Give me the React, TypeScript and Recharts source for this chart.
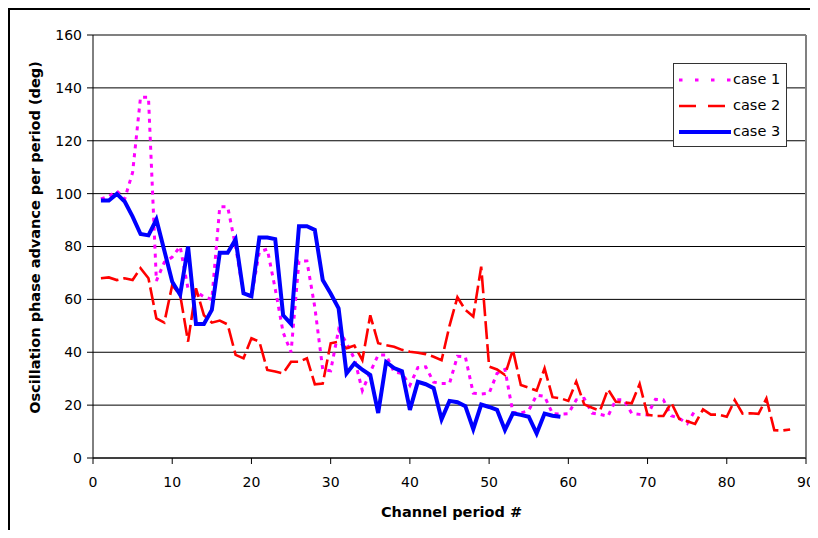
import { LineChart, Line, XAxis, YAxis, CartesianGrid, ReferenceLine, Legend } from 'recharts';

// values, channel period 1, 2, 3 ...
const CASE_1 = [
  98, 99, 101, 98, 108, 136.5, 136.5, 67, 74, 76,
  80, 64, 63, 61, 60, 95, 95, 80, 62, 61,
  78, 79, 64, 47.5, 40, 74.5, 74.5, 57, 33.5, 33,
  48.5, 43.5, 37.5, 25.5, 32.5, 39, 39, 32.5, 32, 27.5,
  34.2, 34.5, 28.7, 28.2, 28.2, 38.5, 38.3, 24.5, 24.2, 24.5,
  32, 33.5, 17.2, 17, 18, 23.8, 23.3, 16.8, 16.6, 16.8,
  22, 22.5, 17, 16.5, 15.8, 22, 22, 16.9, 16.5, 16.3,
  22.2, 22, 16, 15, 13, 18,
];

const CASE_2 = [
  68, 68.3, 67.3, 68, 67.3, 71.8, 68, 52.8, 51.2, 65.4,
  61.7, 44, 64.2, 54, 51.2, 52, 50.5, 39, 37.7, 45.3,
  44, 33.3, 32.7, 32, 36.4, 36.4, 37.7, 27.9, 28.2, 43.4,
  44, 41.5, 42.5, 37, 54, 43.4, 42.7, 42.1, 40.9, 40.2,
  39.8, 39.3, 38.3, 37, 50, 60.8, 56, 53.5, 72.4, 34.6,
  33.5, 31.4, 40.9, 27.6, 26.6, 25.5, 33.9, 23, 22.6, 21.6,
  28.9, 20.3, 19, 17.9, 26, 21.3, 21, 20.7, 28, 16.3,
  15.9, 15.9, 20.9, 14.8, 13.9, 12.9, 18.4, 16.4, 16.4, 15.6,
  21.9, 16.8, 16.9, 16.7, 22.5, 10.5, 10.4, 10.8,
];

const CASE_3 = [
  97.4, 97.4, 99.9, 97, 91.3, 84.7, 84.2, 90.2, 78.5, 66.7,
  61.7, 80, 50.7, 50.7, 56, 77.6, 77.6, 82.7, 62.3, 61.2,
  83.4, 83.4, 82.8, 54, 50.7, 87.7, 87.7, 86.3, 67.3, 62.2,
  56.6, 32, 35.8, 33.4, 31.4, 17, 36.3, 34, 32.8, 18.2,
  28.8, 27.9, 26.4, 14.6, 21.6, 21.1, 19.6, 10.9, 20.2, 19.3,
  18.2, 10.6, 16.9, 16.3, 15.6, 9.3, 16.8, 16, 15.6,
];

const X_TICKS = [0, 10, 20, 30, 40, 50, 60, 70, 80, 90];
const Y_TICKS = [0, 20, 40, 60, 80, 100, 120, 140, 160];

const FONT = '"DejaVu Sans", sans-serif';

const SERIES = [
  { key: 'case1', name: 'case 1', color: '#FF00FF', width: 3, dash: '4 5' },
  { key: 'case2', name: 'case 2', color: '#FF0000', width: 2.6, dash: '18 5' },
  { key: 'case3', name: 'case 3', color: '#0000FF', width: 4, dash: undefined },
];

const chartData = CASE_2.map((v, i) => ({
  period: i + 1,
  case1: CASE_1[i],
  case2: v,
  case3: CASE_3[i],
}));

function YTitle({ viewBox }: any) {
  const x = viewBox.x + 25;
  const y = viewBox.y + viewBox.height / 2 - 9;
  return (
    <text
      x={x}
      y={y}
      transform={`rotate(-90 ${x} ${y})`}
      textAnchor="middle"
      dominantBaseline="central"
      fontFamily={FONT}
      fontWeight="bold"
      fontSize={14.5}
      fill="#000"
    >
      Oscillation phase advance per period (deg)
    </text>
  );
}

function XTitle({ viewBox }: any) {
  return (
    <text
      x={viewBox.x + viewBox.width / 2 + 2}
      y={viewBox.y + 59}
      textAnchor="middle"
      fontFamily={FONT}
      fontWeight="bold"
      fontSize={14.5}
      fill="#000"
    >
      Channel period #
    </text>
  );
}

function LegendBox() {
  return (
    <div
      style={{
        position: 'relative',
        width: 114,
        height: 84,
        boxSizing: 'border-box',
        border: '1px solid #333',
        background: '#fff',
        fontFamily: FONT,
        fontSize: 14.5,
        color: '#000',
      }}
    >
      {SERIES.map((s, i) => (
        <div key={s.key}>
          <svg
            width={54}
            height={8}
            style={{ position: 'absolute', left: 4, top: 12 + i * 26 }}
          >
            <line
              x1={1}
              y1={4}
              x2={53}
              y2={4}
              stroke={s.color}
              strokeWidth={s.width}
              strokeDasharray={s.key === 'case1' ? '3.5 12.5' : s.key === 'case2' ? '17 12' : undefined}
            />
          </svg>
          <span
            style={{
              position: 'absolute',
              left: 59,
              top: 6 + i * 26,
              lineHeight: '18px',
              whiteSpace: 'nowrap',
            }}
          >
            {s.name}
          </span>
        </div>
      ))}
    </div>
  );
}

export default function App() {
  return (
    <div
      style={{
        width: 808,
        height: 528,
        borderLeft: '2px solid #000',
        borderTop: '2px solid #000',
        marginBottom: -8,
        background: '#fff',
      }}
    >
      <LineChart
        width={808}
        height={528}
        data={chartData}
        margin={{ top: 25, right: 12, bottom: 0, left: 0 }}
      >
        <CartesianGrid vertical={false} stroke="#000" />
        <XAxis
          dataKey="period"
          type="number"
          domain={[0, 90]}
          ticks={X_TICKS}
          height={80}
          tickSize={6}
          tickMargin={13}
          tick={{ fill: '#000', fontSize: 14, fontFamily: FONT }}
          axisLine={{ stroke: '#000' }}
          tickLine={{ stroke: '#000' }}
          label={<XTitle />}
        />
        <YAxis
          type="number"
          domain={[0, 160]}
          ticks={Y_TICKS}
          width={83}
          tickSize={6}
          tickMargin={5}
          tick={{ fill: '#000', fontSize: 14, fontFamily: FONT }}
          axisLine={{ stroke: '#000' }}
          tickLine={{ stroke: '#000' }}
          label={<YTitle />}
        />
        <ReferenceLine y={160} stroke="#808080" strokeWidth={2} />
        <ReferenceLine x={90} stroke="#808080" strokeWidth={2} />
        {SERIES.map((s) => (
          <Line
            key={s.key}
            type="linear"
            dataKey={s.key}
            name={s.name}
            stroke={s.color}
            strokeWidth={s.width}
            strokeDasharray={s.dash}
            dot={false}
            activeDot={false}
            isAnimationActive={false}
          />
        ))}
        <Legend
          layout="horizontal"
          verticalAlign="middle"
          align="center"
          content={<LegendBox />}
          wrapperStyle={{ left: 663, top: 53, width: 114, height: 84 }}
        />
      </LineChart>
    </div>
  );
}
